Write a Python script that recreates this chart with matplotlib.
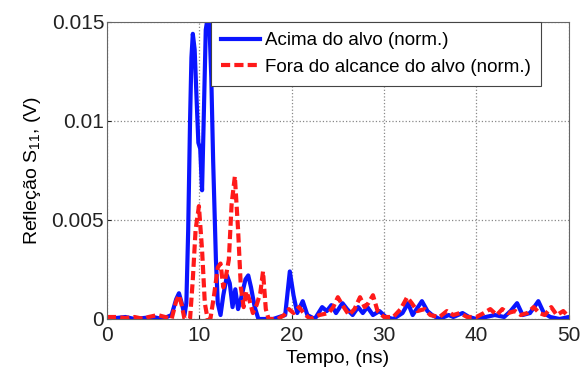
import matplotlib.pyplot as plt

plt.rcParams['font.family'] = ['Liberation Sans', 'DejaVu Sans']
plt.rcParams['mathtext.fontset'] = 'custom'
plt.rcParams['mathtext.rm'] = 'Liberation Sans'
plt.rcParams['mathtext.it'] = 'Liberation Sans'

# blue: acima do alvo
t_acima = [0, 1, 2, 3, 4, 5, 6, 7, 7.5, 7.8, 8.1, 8.4, 8.6, 8.8, 9.0, 9.15, 9.3, 9.5,
           9.7, 9.9, 10.1, 10.3, 10.5, 10.7, 10.9, 11.1, 11.3, 11.5, 11.8, 12.0,
           12.3, 12.6, 13.0, 13.3, 13.6, 13.9, 14.2, 14.5, 15.0, 15.3, 15.6, 16.0,
           16.4, 17, 18, 19.3, 19.8, 20.2, 20.6, 21.2, 21.7, 22.5, 23.3, 23.8, 24.3,
           24.8, 25.5, 26.0, 26.6, 27.2, 27.7, 28.2, 28.8, 29.5, 30.2, 31, 32, 32.6,
           33.1, 34.1, 34.7, 35.2, 36, 37, 37.5, 38.5, 39.2, 40, 41, 42, 43, 43.7,
           44.4, 45.0, 45.8, 46.7, 47.3, 48, 49, 50]
v_acima = [0.0001, 0.00005, 0.0001, 0.0, 0.00005, 0.0001, 0.0, 0.0002, 0.0010, 0.0013,
           0.0008, 0.0002, 0.0008, 0.0045, 0.0100, 0.0132, 0.0144, 0.0136, 0.0112,
           0.0089, 0.0086, 0.0065, 0.0105, 0.0146, 0.0152, 0.0148, 0.0122, 0.0080,
           0.0030, 0.0008, 0.0002, 0.0012, 0.0022, 0.0018, 0.0006, 0.0015, 0.0005,
           0.001, 0.0020, 0.0022, 0.0016, 0.0006, 0.0, 0.0, 0.0, 0.0002, 0.0024,
           0.0012, 0.0003, 0.0009, 0.0002, 0.0, 0.0006, 0.0004, 0.0007, 0.0003, 0.0008,
           0.0005, 0.0002, 0.0006, 0.0003, 0.0006, 0.0002, 0.0004, 0.0001, 0.0, 0.0003,
           0.0008, 0.0002, 0.0009, 0.0004, 0.0002, 0.0, 0.0002, 0.0001, 0.0003, 0.0001,
           0.0, 0.0001, 0.0002, 0.0001, 0.0004, 0.0008, 0.0002, 0.0003, 0.0009, 0.0003,
           0.0001, 0.0, 0.0001]

# red: fora do alcance do alvo
t_fora = [0, 1, 2, 3, 4, 4.5, 5.5, 6.3, 7, 7.5, 7.8, 8.1, 8.4, 9.0, 9.3, 9.6, 9.96,
          10.3, 10.6, 10.9, 11.2, 11.6, 12.0, 12.3, 12.6, 12.9, 13.2, 13.5, 13.85,
          14.2, 14.5, 14.8, 15.1, 15.4, 15.8, 16.2, 16.6, 16.9, 17.2, 17.5, 18.5,
          19.2, 19.7, 20.2, 20.8, 21.3, 22, 23, 24, 24.5, 25.0, 25.5, 26.2, 26.8,
          27.4, 27.9, 28.3, 28.8, 29.3, 30, 31, 31.8, 32.5, 33.0, 33.6, 34.4, 35.0,
          36, 36.8, 37.5, 38.2, 39, 40, 40.8, 41.5, 42.2, 42.8, 43.4, 44.2, 44.8,
          45.5, 46.2, 46.8, 47.4, 48.1, 48.7, 49.4, 50]
v_fora = [0.0001, 0.0001, 0.00005, 0.0001, 0.0, 0.0001, 0.0002, 0.0001, 0.0, 0.0009,
          0.0012, 0.0007, 0.0, 0.0, 0.002, 0.0045, 0.0057, 0.0035, 0.0008, 0.0, 0.0,
          0.0012, 0.0026, 0.0028, 0.0016, 0.0022, 0.003, 0.0058, 0.0072, 0.0045, 0.0016,
          0.0006, 0.0014, 0.0010, 0.0003, 0.0007, 0.0013, 0.0024, 0.0005, 0.0, 0.0,
          0.0002, 0.0005, 0.0003, 0.0006, 0.0003, 0.0, 0.0002, 0.0003, 0.0006, 0.0011,
          0.0007, 0.0002, 0.0005, 0.0011, 0.0006, 0.0008, 0.0012, 0.0004, 0.0001, 0.0001,
          0.0005, 0.0011, 0.0008, 0.0004, 0.0005, 0.0002, 0.0001, 0.0004, 0.0002, 0.0003,
          0.0001, 0.0001, 0.0003, 0.0005, 0.0002, 0.0005, 0.0003, 0.0004, 0.0002, 0.0003,
          0.0006, 0.0003, 0.0002, 0.0006, 0.0002, 0.0004, 0.0001]

xticks = [0, 10, 20, 30, 40, 50]
yticks = [0, 0.005, 0.01, 0.015]
ytick_labels = ['0', '0.005', '0.01', '0.015']

fig = plt.figure(figsize=(5.81, 3.72), dpi=100)
ax = fig.add_axes([0.184, 0.1425, 0.795, 0.7985])

ax.plot(t_acima, v_acima, color='#0a14ff', lw=3, label='Acima do alvo (norm.)')
ax.plot(t_fora, v_fora, color='#ff1a1a', lw=3, ls=(0, (2.2, 1.0)),
        label='Fora do alcance do alvo (norm.)')

ax.set_xlim(0, 50)
ax.set_ylim(0, 0.015)
ax.set_xticks(xticks)
ax.set_yticks(yticks)
ax.set_yticklabels(ytick_labels)
ax.tick_params(direction='in', length=3, labelsize=15, colors='#222222', pad=2)
ax.tick_params(axis='x', pad=5)
ax.grid(True, ls=':', color='#888888', lw=0.9)
for s in ax.spines.values():
    s.set_color('#666666')
    s.set_linewidth(0.8)

ax.set_xlabel('Tempo, (ns)', fontsize=14, labelpad=4)
ax.set_ylabel('Refleção S$_{11}$, (V)', fontsize=14, labelpad=6)

leg = ax.legend(loc='upper right', bbox_to_anchor=(0.94, 1.0), fontsize=13.5,
                fancybox=False, framealpha=1, edgecolor='#444444',
                borderpad=0.55, labelspacing=0.5, handletextpad=0.25,
                handlelength=2.1, borderaxespad=0)
leg.get_frame().set_linewidth(0.8)

plt.savefig('out.png', dpi=100)
